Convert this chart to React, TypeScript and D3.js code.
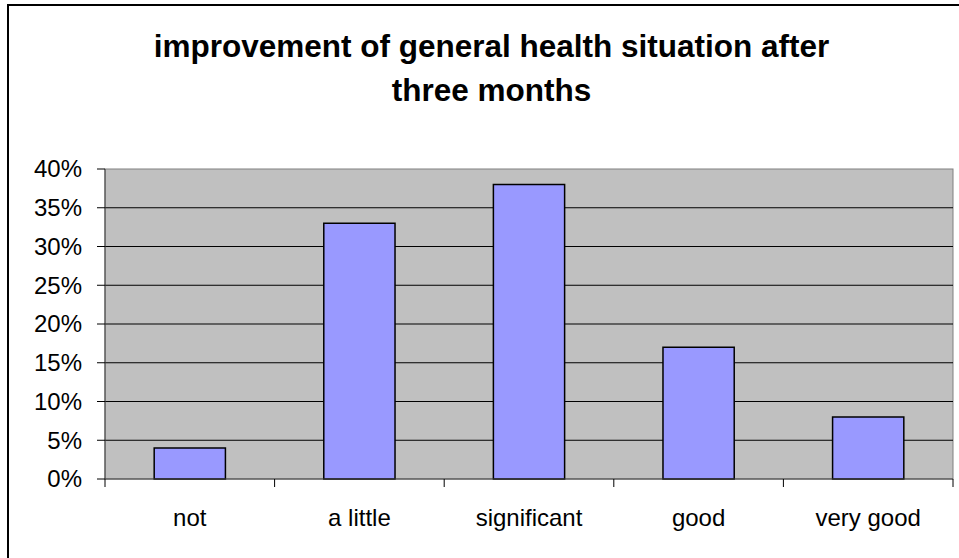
import React from "react";
import * as d3 from "d3";

const categories = ["not", "a little", "significant", "good", "very good"];
const values = [4, 33, 38, 17, 8];
const yTicks = [0, 5, 10, 15, 20, 25, 30, 35, 40];
const titleLines = ["improvement of general health situation after", "three months"];

export default function App() {
  const W = 959, H = 558;
  const left = 105, right = 953, top = 169, bottom = 479;
  const x = d3.scaleBand<string>().domain(categories).range([left, right]).paddingInner(0.58).paddingOuter(0.29);
  const y = d3.scaleLinear().domain([0, 40]).range([bottom, top]);
  const font = "'Liberation Sans', Arial, sans-serif";
  const boundaries = d3.range(categories.length + 1).map((i) => left + (i * (right - left)) / categories.length);
  return (
    <svg width={W} height={H} style={{ position: "absolute", left: 0, top: 0, background: "#fff" }}>
      <rect x={8} y={5} width={1000} height={600} fill="#fff" stroke="#000" strokeWidth={2} />
      {titleLines.map((t, i) => (
        <text key={i} x={491.5} y={57 + i * 43.5} textAnchor="middle" fontFamily={font} fontWeight="bold" fontSize={31.5} fill="#000">
          {t}
        </text>
      ))}
      <rect x={left} y={top} width={right - left} height={bottom - top} fill="#C0C0C0" stroke="#808080" strokeWidth={1} />
      {yTicks.filter((t) => t > 0 && t < 40).map((t) => (
        <line key={t} x1={left} x2={right} y1={y(t)} y2={y(t)} stroke="#000" strokeWidth={1} />
      ))}
      {values.map((v, i) => (
        <rect key={i} x={x(categories[i])!} y={y(v)} width={x.bandwidth()} height={bottom - y(v)} fill="#9999FF" stroke="#000" strokeWidth={1.5} />
      ))}
      <line x1={left} x2={left} y1={top} y2={bottom} stroke="#404040" strokeWidth={1} />
      <line x1={left} x2={right} y1={bottom} y2={bottom} stroke="#404040" strokeWidth={1} />
      {yTicks.map((t) => (
        <g key={t}>
          <line x1={left - 8} x2={left} y1={y(t)} y2={y(t)} stroke="#000" strokeWidth={1} />
          <text x={82} y={y(t)} dy="0.35em" textAnchor="end" fontFamily={font} fontSize={24} fill="#000">
            {t}%
          </text>
        </g>
      ))}
      {boundaries.map((b, i) => (
        <line key={i} x1={b} x2={b} y1={bottom} y2={bottom + 8} stroke="#000" strokeWidth={1} />
      ))}
      {categories.map((c) => (
        <text key={c} x={x(c)! + x.bandwidth() / 2} y={526} textAnchor="middle" fontFamily={font} fontSize={24} fill="#000">
          {c}
        </text>
      ))}
    </svg>
  );
}
